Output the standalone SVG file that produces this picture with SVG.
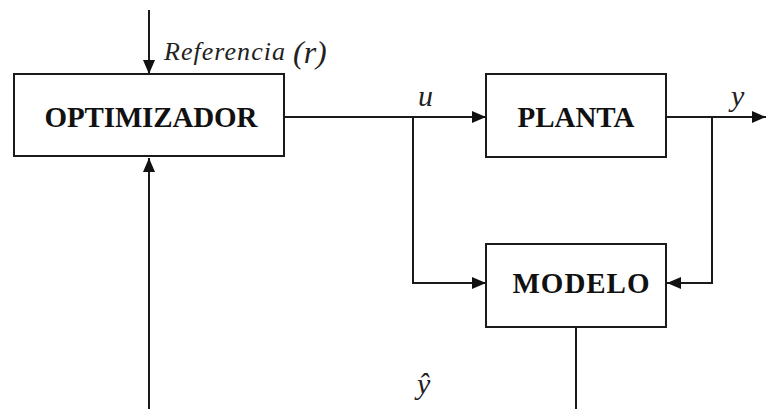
<svg xmlns="http://www.w3.org/2000/svg" width="766" height="409" viewBox="0 0 766 409">
<style>
.box{fill:#fff;stroke:#1a1a1a;stroke-width:2}
.lbl{font-family:"Liberation Serif","Times New Roman",Times,serif;font-weight:bold;font-size:29px;fill:#111;text-anchor:middle}
.ln{fill:none;stroke:#1a1a1a;stroke-width:2}
.it{font-family:"Liberation Serif","Times New Roman",Times,serif;font-style:italic;fill:#222}
</style>
<defs>
<marker id="ah" viewBox="0 0 14 12" refX="14" refY="6" markerWidth="14" markerHeight="12" markerUnits="userSpaceOnUse" orient="auto">
<path d="M0,0 L14,6 L0,12 Z" fill="#111"/>
</marker>
</defs>
<rect width="766" height="409" fill="#fff"/>
<g id="connectors">
<line class="ln" x1="149" y1="10" x2="149" y2="74" marker-end="url(#ah)"/>
<line class="ln" x1="149" y1="409" x2="149" y2="158" marker-end="url(#ah)"/>
<line class="ln" x1="284" y1="117" x2="486" y2="117" marker-end="url(#ah)"/>
<polyline class="ln" points="413,117 413,283 486,283" marker-end="url(#ah)"/>
<line class="ln" x1="666" y1="117" x2="766" y2="117" marker-end="url(#ah)"/>
<polyline class="ln" points="712,117 712,283 667,283" marker-end="url(#ah)"/>
<line class="ln" x1="576" y1="327" x2="576" y2="409"/>
</g>
<g id="labels">
<text class="it" x="164" y="60" font-size="26" textLength="121">Referencia</text>
<text class="it" x="293" y="63" font-size="32" fill="#555">(r)</text>
<text class="it" x="418" y="106" font-size="30">u</text>
<text class="it" x="731" y="106" font-size="30">y</text>
<text class="it" x="417" y="394" font-size="30" fill="#444">ŷ</text>
</g>
<g id="optimizador">
<rect class="box" x="14" y="74" width="270" height="82"/>
<text class="lbl" x="151" y="127" textLength="213">OPTIMIZADOR</text>
</g>
<g id="planta">
<rect class="box" x="486" y="74" width="180" height="83"/>
<text class="lbl" x="576" y="127" textLength="117">PLANTA</text>
</g>
<g id="modelo">
<rect class="box" x="486" y="244" width="180" height="83"/>
<text class="lbl" x="581" y="293" textLength="137">MODELO</text>
</g>
</svg>
